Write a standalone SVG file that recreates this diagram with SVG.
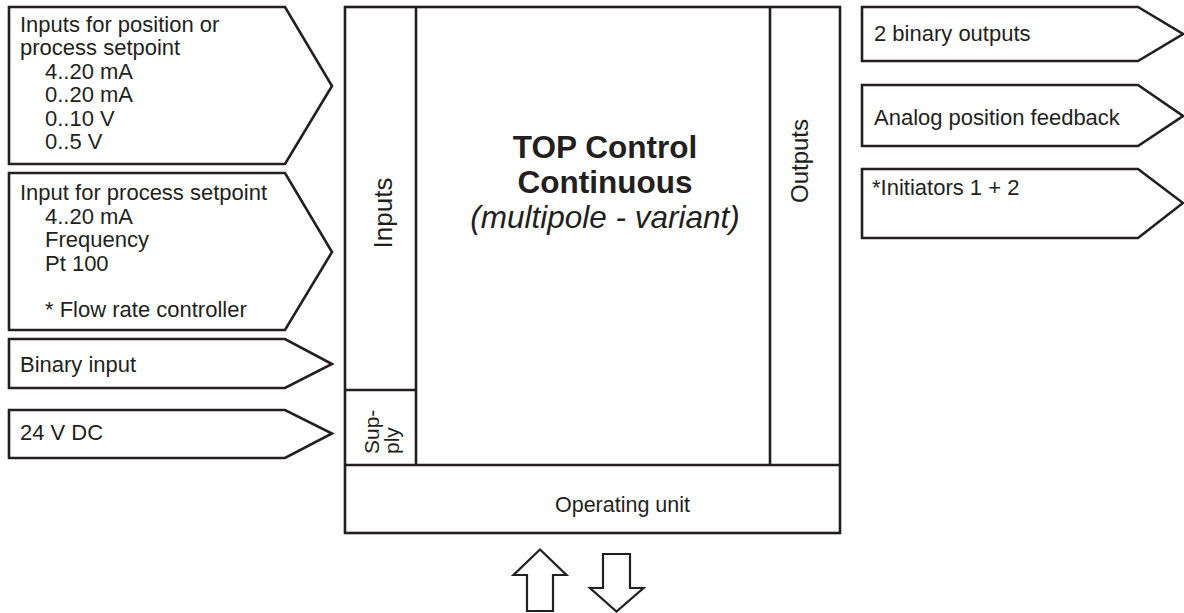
<svg xmlns="http://www.w3.org/2000/svg" width="1184" height="613" viewBox="0 0 1184 613">
<style>
.shape{fill:#fff;stroke:#231f20;stroke-width:2.6;stroke-linejoin:miter}
.line{fill:none;stroke:#231f20;stroke-width:2.6}
.arr{fill:#fff;stroke:#231f20;stroke-width:2.2;stroke-linejoin:miter}
text{font-family:"Liberation Sans",Arial,Helvetica,sans-serif;fill:#231f20}
.t{font-size:22px}
.s{font-size:21px}
.side{font-size:26px}
.title{font-size:31.5px;font-weight:bold}
.sub{font-size:31.5px;font-style:italic}
</style>
<rect width="1184" height="613" fill="#fff"/>

<g id="in-position">
<path class="shape" d="M9,7 L285,7 L332,86 L285,164 L9,164 Z"/>
<text class="t" x="20" y="31.5">Inputs for position or</text>
<text class="t" x="20" y="55">process setpoint</text>
<text class="t" x="45" y="78.5">4..20 mA</text>
<text class="t" x="45" y="102">0..20 mA</text>
<text class="t" x="45" y="125.5">0..10 V</text>
<text class="t" x="45" y="149">0..5 V</text>
</g>

<g id="in-process">
<path class="shape" d="M9,173 L285,173 L332,252 L285,330 L9,330 Z"/>
<text class="t" x="20" y="200">Input for process setpoint</text>
<text class="t" x="45" y="223.5">4..20 mA</text>
<text class="t" x="45" y="247">Frequency</text>
<text class="t" x="45" y="270.5">Pt 100</text>
<text class="t" x="45" y="316.5">* Flow rate controller</text>
</g>

<g id="in-binary">
<path class="shape" d="M9,339 L285,339 L332,364 L285,388 L9,388 Z"/>
<text class="t" x="20" y="372">Binary input</text>
</g>

<g id="in-supply">
<path class="shape" d="M9,410 L285,410 L332,433.5 L285,458 L9,458 Z"/>
<text class="t" x="20" y="440">24 V DC</text>
</g>

<g id="main">
<rect class="shape" x="345" y="7" width="495" height="526"/>
<line class="line" x1="416" y1="7" x2="416" y2="465"/>
<line class="line" x1="345" y1="390" x2="416" y2="390"/>
<line class="line" x1="770" y1="7" x2="770" y2="465"/>
<line class="line" x1="345" y1="465" x2="840" y2="465"/>
<text class="side" transform="translate(391.5,213) rotate(-90)" text-anchor="middle">Inputs</text>
<text class="s" transform="translate(379,454) rotate(-90)">Sup-</text>
<text class="s" transform="translate(399,454) rotate(-90)">ply</text>
<text class="side" style="font-size:24px" transform="translate(808,161) rotate(-90)" text-anchor="middle">Outputs</text>
<text class="title" x="605" y="158" text-anchor="middle">TOP Control</text>
<text class="title" x="605" y="193" text-anchor="middle">Continuous</text>
<text class="sub" x="605" y="228" text-anchor="middle">(multipole - variant)</text>
<text class="t" style="font-size:21.5px" x="622.5" y="512" text-anchor="middle">Operating unit</text>
</g>

<g id="out-binary">
<path class="shape" d="M862,7 L1138,7 L1183,34 L1138,61 L862,61 Z"/>
<text class="t" x="874" y="41">2 binary outputs</text>
</g>

<g id="out-analog">
<path class="shape" d="M862,85 L1138,85 L1183,116 L1138,146 L862,146 Z"/>
<text class="t" x="874" y="125">Analog position feedback</text>
</g>

<g id="out-initiators">
<path class="shape" d="M862,169 L1138,169 L1183,203 L1138,238 L862,238 Z"/>
<text class="t" x="872" y="194.5">*Initiators 1 + 2</text>
</g>

<g id="connectors">
<path class="arr" d="M540,549.5 L566.5,575 L553,575 L553,611 L527,611 L527,575 L513.5,575 Z"/>
<path class="arr" d="M603,554 L630,554 L630,588 L643.5,588 L616.5,611.5 L590,588 L603,588 Z"/>
</g>
</svg>
